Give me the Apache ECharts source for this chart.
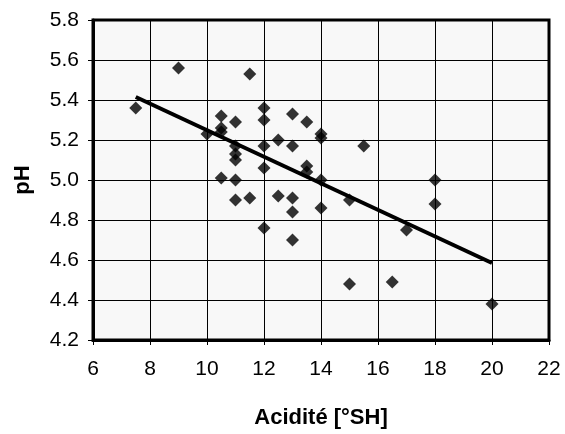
<!DOCTYPE html>
<html>
<head>
<meta charset="utf-8">
<script src="https://cdn.jsdelivr.net/npm/echarts@6/dist/echarts.min.js"></script>
<style>
html,body{margin:0;padding:0;background:#fff;}
#chart{width:565px;height:434px;}
</style>
</head>
<body>
<div id="chart"></div>
<script>
// Acidité [°SH]
var acidity = [7.5, 9, 10, 10.5, 10.5, 10.5, 10.5, 11, 11, 11, 11, 11, 11, 11.5, 11.5,
  12, 12, 12, 12, 12, 12.5, 12.5, 13, 13, 13, 13, 13, 13.5, 13.5, 13.5,
  14, 14, 14, 14, 15, 15, 15.5, 16.5, 17, 18, 18, 20];
// pH
var ph = [5.36, 5.56, 5.23, 5.32, 5.26, 5.24, 5.01, 5.29, 5.17, 5.13, 5.10, 5.00, 4.90, 5.53, 4.91,
  5.36, 5.30, 5.17, 5.06, 4.76, 5.20, 4.92, 5.33, 5.17, 4.91, 4.84, 4.70, 5.29, 5.07, 5.04,
  5.23, 5.21, 5.00, 4.86, 4.90, 4.48, 5.17, 4.49, 4.75, 5.00, 4.88, 4.38];
// trend line end points
var trendX = [7.5, 20];
var trendY = [5.415, 4.585];
var xTicks = [6, 8, 10, 12, 14, 16, 18, 20, 22];
var yTicks = [4.2, 4.4, 4.6, 4.8, 5.0, 5.2, 5.4, 5.6, 5.8];

var points = acidity.map(function (a, i) { return [a, ph[i]]; });
var trend = trendX.map(function (a, i) { return [a, trendY[i]]; });
var font = '"Liberation Sans", Arial, sans-serif';

var chart = echarts.init(document.getElementById('chart'), null, {renderer: 'canvas'});
chart.setOption({
  animation: false,
  backgroundColor: '#ffffff',
  grid: {
    left: 93, right: 16, top: 20, bottom: 93,
    show: true, backgroundColor: '#f8f8f8', borderColor: '#000', borderWidth: 3
  },
  xAxis: {
    type: 'value', min: xTicks[0], max: xTicks[xTicks.length - 1], interval: 2,
    name: 'Acidité [°SH]', nameLocation: 'middle', nameGap: 67,
    nameTextStyle: {fontFamily: font, fontSize: 22, fontWeight: 'bold', color: '#000'},
    axisLine: {show: true, onZero: false, lineStyle: {color: '#000', width: 3}},
    axisTick: {show: true, length: 5, lineStyle: {color: '#000', width: 1}},
    axisLabel: {fontFamily: font, fontSize: 21, color: '#000', margin: 19},
    splitLine: {show: true, lineStyle: {color: '#000', width: 1}}
  },
  yAxis: {
    type: 'value', min: yTicks[0], max: yTicks[yTicks.length - 1], interval: 0.2,
    name: 'pH', nameLocation: 'middle', nameGap: 59,
    nameTextStyle: {fontFamily: font, fontSize: 22, fontWeight: 'bold', color: '#000'},
    axisLine: {show: true, onZero: false, lineStyle: {color: '#000', width: 3}},
    axisTick: {show: true, length: 5, lineStyle: {color: '#000', width: 1}},
    axisLabel: {fontFamily: font, fontSize: 21, color: '#000', margin: 14,
      formatter: function (v) { return v.toFixed(1); }},
    splitLine: {show: true, lineStyle: {color: '#000', width: 1}}
  },
  series: [
    {
      type: 'scatter', data: points, symbol: 'diamond', symbolSize: 13,
      itemStyle: {color: '#000'}, z: 2
    },
    {
      type: 'line', data: trend, symbol: 'none',
      lineStyle: {color: '#000', width: 4}, z: 3
    }
  ]
});
</script>
</body>
</html>
